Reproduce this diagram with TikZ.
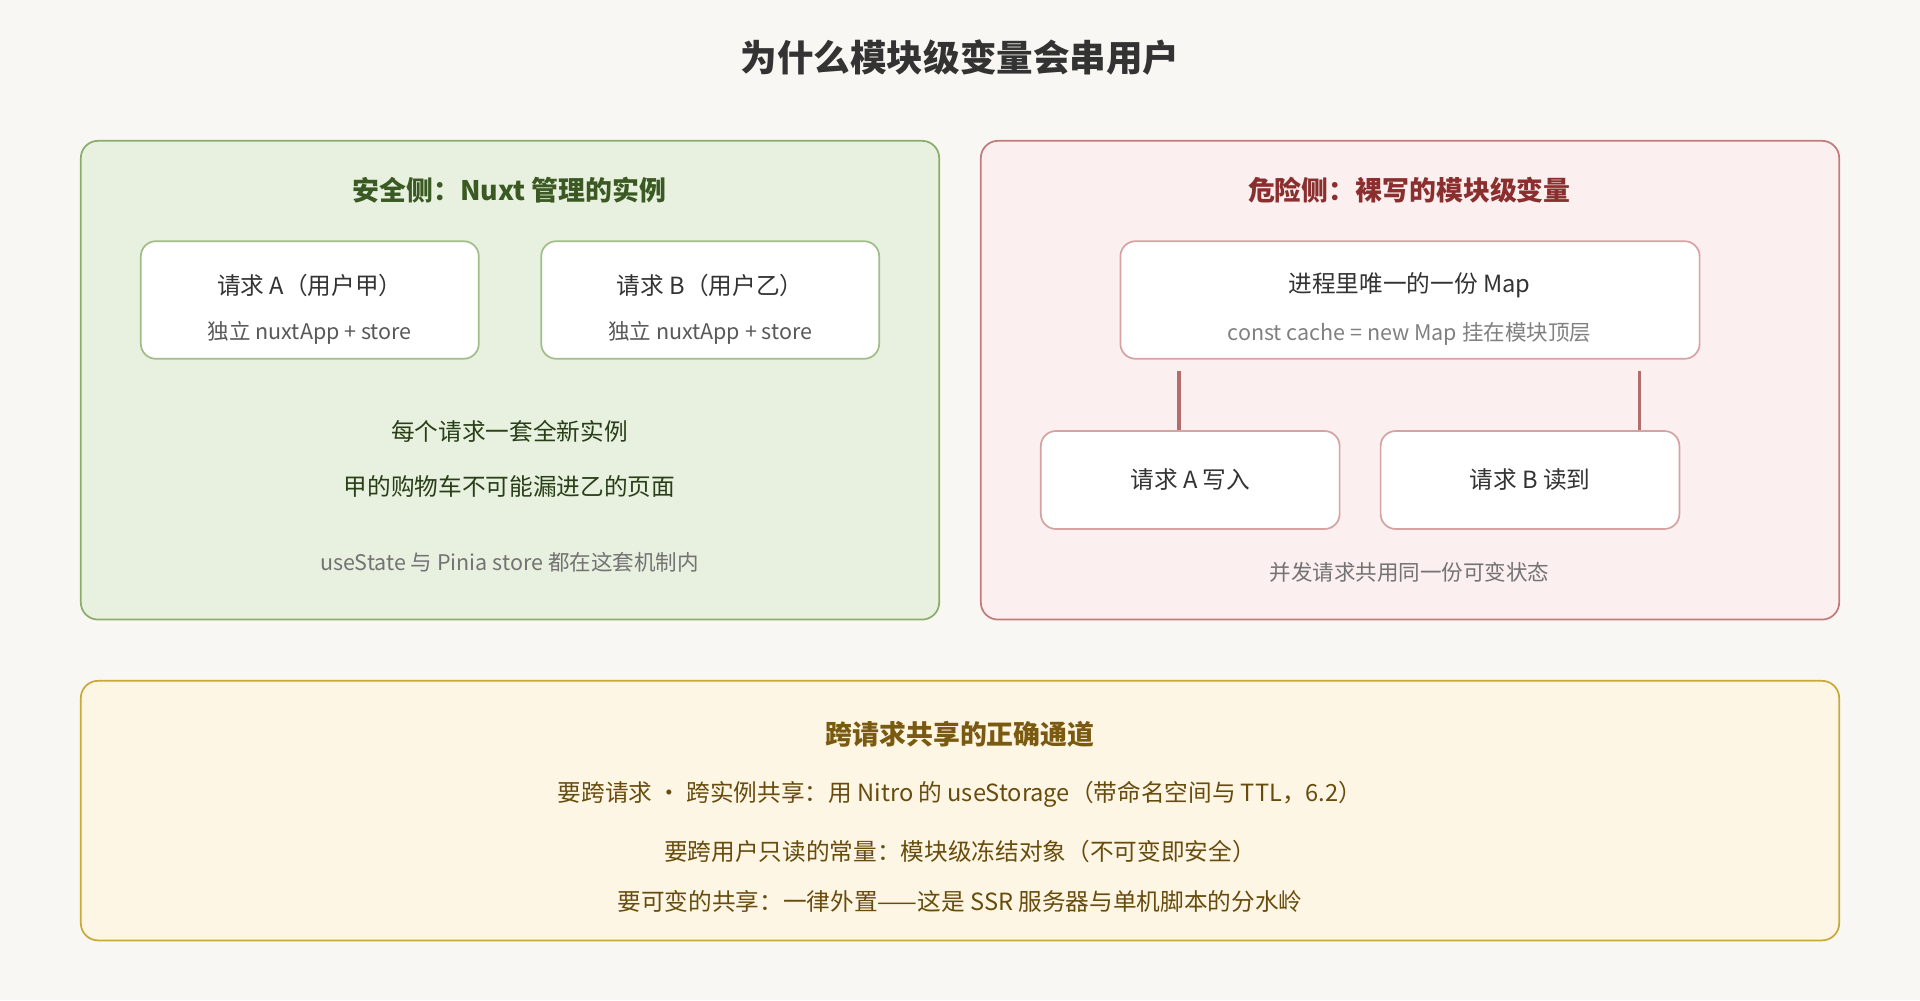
\documentclass[tikz,border=0pt]{standalone}
\usepackage{fontspec}
\setmainfont{Noto Sans CJK SC}
\usetikzlibrary{positioning}
\definecolor{bgpaper}{HTML}{F9F7F3}
\definecolor{safefill}{HTML}{E8F0DF}
\definecolor{safeline}{HTML}{8AAE6A}
\definecolor{safetext}{HTML}{3B5A23}
\definecolor{dangfill}{HTML}{FBEFEF}
\definecolor{dangline}{HTML}{C47A7A}
\definecolor{dangtext}{HTML}{8B2E2E}
\definecolor{wayfill}{HTML}{FEF6E4}
\definecolor{wayline}{HTML}{C9A93A}
\definecolor{waytext}{HTML}{7A5A10}

\begin{document}
\begin{tikzpicture}[
    x=0.02cm, y=-0.02cm,
    panel/.style={draw, line width=0.8pt, rounded corners=8pt},
    card/.style={draw, fill=white, line width=0.8pt, rounded corners=7pt, align=center},
    head/.style={font=\fontsize{12.5}{15}\selectfont\bfseries},
    body/.style={font=\fontsize{11}{14}\selectfont},
    note/.style={font=\fontsize{10}{12}\selectfont}
  ]

  \fill[bgpaper] (0,0) rectangle (1568,817);

  \node[font=\fontsize{17}{20}\selectfont\bfseries, text=black!80] (title) at (784,47) {为什么模块级变量会串用户};

  % safe side
  \draw[panel, fill=safefill, draw=safeline] (66,115) rectangle (767,506);
  \node[head, text=safetext] (safe) at (416,155) {安全侧：Nuxt 管理的实例};
  \draw[card, draw=safeline!80] (115,197) rectangle (391,293);
  \draw[card, draw=safeline!80] (442,197) rectangle (718,293);
  \node[body, text=black!80] (reqa) at (253,233) {请求 A（用户甲）};
  \node[note, text=black!65, below=0.15cm of reqa] {独立 nuxtApp + store};
  \node[body, text=black!80] (reqb) at (580,233) {请求 B（用户乙）};
  \node[note, text=black!65, below=0.15cm of reqb] {独立 nuxtApp + store};
  \node[body, text=safetext!70!black] (fresh) at (416,352) {每个请求一套全新实例};
  \node[body, text=safetext!70!black] (cart) at (416,397) {甲的购物车不可能漏进乙的页面};
  \node[note, text=black!55] at (416,459) {useState 与 Pinia store 都在这套机制内};

  % danger side
  \draw[panel, fill=dangfill, draw=dangline] (801,115) rectangle (1502,506);
  \node[head, text=dangtext] (danger) at (1151,155) {危险侧：裸写的模块级变量};
  \node[card, draw=dangline!70, minimum width=473*0.02cm, minimum height=96*0.02cm] (map) at (1151.5,245) {};
  \node[body, text=black!80] (maptxt) at (1151,233) {进程里唯一的一份 Map};
  \node[note, text=black!50, below=0.15cm of maptxt] {const cache = new Map 挂在模块顶层};
  \node[card, draw=dangline!70, body, text=black!80, minimum width=244*0.02cm, minimum height=80*0.02cm] (write) at (972,392) {请求 A 写入};
  \node[card, draw=dangline!70, body, text=black!80, minimum width=244*0.02cm, minimum height=80*0.02cm] (read) at (1249.5,392) {请求 B 读到};
  \coordinate (la) at (963,303);
  \coordinate (lb) at (1339,303);
  \draw[dangline!90!black, line width=1.6pt] (la) -- (la |- write.north);
  \draw[dangline!90!black, line width=1.6pt] (lb) -- (lb |- read.north);
  \node[note, text=black!55] at (1151,467) {并发请求共用同一份可变状态};

  % the right way
  \draw[panel, fill=wayfill, draw=wayline] (66,556) rectangle (1502,768);
  \node[head, text=waytext] (way) at (784,600) {跨请求共享的正确通道};
  \node[body, text=waytext!85!black] at (784,649) {要跨请求 · 跨实例共享：用 Nitro 的 useStorage（带命名空间与 TTL，6.2）};
  \node[body, text=waytext!85!black] at (784,695) {要跨用户只读的常量：模块级冻结对象（不可变即安全）};
  \node[body, text=waytext!85!black] at (784,736) {要可变的共享：一律外置——这是 SSR 服务器与单机脚本的分水岭};

\end{tikzpicture}
\end{document}
